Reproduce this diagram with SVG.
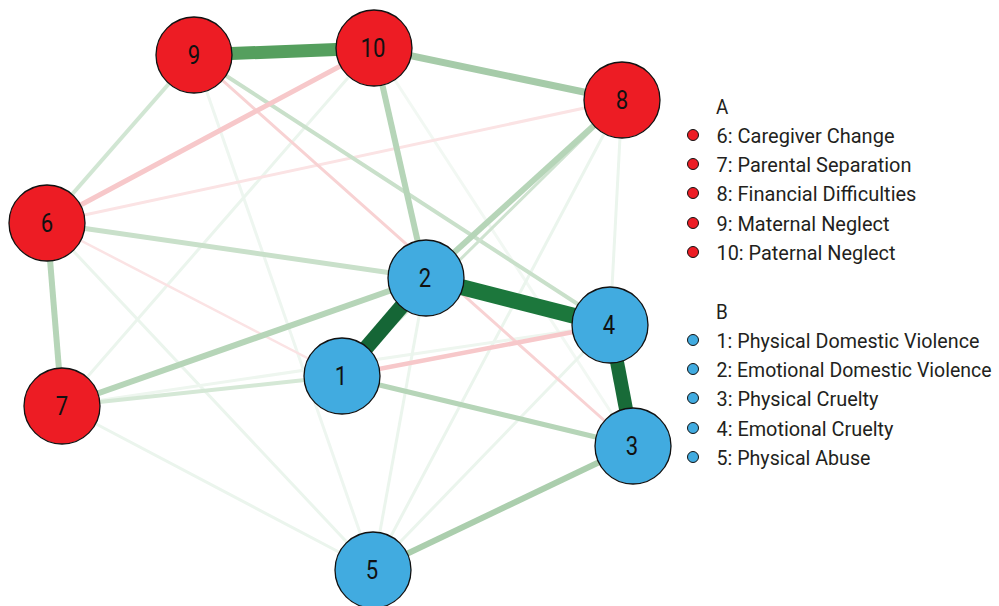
<svg xmlns="http://www.w3.org/2000/svg" width="999" height="606" viewBox="0 0 999 606">
<style>
.e{fill:none;stroke-linecap:butt}
.g0{stroke:#ebf5ed;stroke-width:3}
.g1{stroke:#c9e0ca;stroke-width:4}
.g2{stroke:#b6d5b8;stroke-width:6}
.g3{stroke:#a6cba9;stroke-width:7}
.p0{stroke:#fbe3e4;stroke-width:3}
.p1{stroke:#f8d2d3;stroke-width:3}
.p2{stroke:#f7c8ca;stroke-width:5}
.nr{fill:#ed1c24;stroke:#111;stroke-width:1.3}
.nb{fill:#41abe0;stroke:#111;stroke-width:1.3}
.nl{font-family:Roboto,"Liberation Sans",sans-serif;font-size:26px;fill:#111;text-anchor:middle}
.lg{font-family:Roboto,"Liberation Sans",sans-serif;font-size:21px;fill:#231f20}
.dr{fill:#ed1c24;stroke:#111;stroke-width:1}
.db{fill:#41abe0;stroke:#111;stroke-width:1}
</style>
<rect width="999" height="606" fill="#fff"/>
<g id="edges">
<line class="e g0" x1="194" y1="55" x2="373" y2="570" style="stroke:#eef6f0"/>
<line class="e g0" x1="374" y1="48" x2="62" y2="406"/>
<line class="e g0" x1="374" y1="48" x2="633" y2="446" style="stroke:#f2f8f3"/>
<line class="e g0" x1="622" y1="100" x2="373" y2="570"/>
<line class="e g0" x1="622" y1="100" x2="610" y2="325"/>
<line class="e g0" x1="47" y1="223" x2="373" y2="570"/>
<line class="e g0" x1="62" y1="406" x2="610" y2="325" style="stroke:#eef6ef"/>
<line class="e g0" x1="62" y1="406" x2="373" y2="570"/>
<line class="e g0" x1="426" y1="278" x2="373" y2="570"/>
<line class="e g0" x1="610" y1="325" x2="373" y2="570"/>
<line class="e p0" x1="47" y1="223" x2="622" y2="100"/>
<line class="e p0" x1="47" y1="223" x2="342" y2="376" style="stroke-width:2.5"/>
<line class="e p1" x1="194" y1="55" x2="633" y2="446"/>
<line class="e g1" x1="194" y1="55" x2="47" y2="223" style="stroke:#d1e6d3"/>
<line class="e g1" x1="194" y1="55" x2="610" y2="325"/>
<line class="e g1" x1="62" y1="406" x2="342" y2="376" style="stroke:#d5e8d6"/>
<line class="e g1" x1="622" y1="100" x2="342" y2="376" style="stroke:#cfe3d0;stroke-width:3"/>
<line class="e g1" x1="47" y1="223" x2="426" y2="278" style="stroke-width:5"/>
<line class="e g2" x1="342" y1="376" x2="633" y2="446" style="stroke-width:5"/>
<line class="e g2" x1="47" y1="223" x2="62" y2="406"/>
<line class="e g2" x1="62" y1="406" x2="426" y2="278"/>
<line class="e g2" x1="374" y1="48" x2="426" y2="278"/>
<line class="e g2" x1="622" y1="100" x2="426" y2="278"/>
<line class="e g2" x1="633" y1="446" x2="373" y2="570" style="stroke:#abcead"/>
<line class="e g3" x1="374" y1="48" x2="622" y2="100"/>
<line class="e p2" x1="374" y1="48" x2="47" y2="223"/>
<line class="e p2" x1="342" y1="376" x2="610" y2="325" style="stroke-width:4.5"/>
<line class="e" x1="194" y1="55" x2="374" y2="48" stroke="#559f5e" stroke-width="13"/>
<line class="e" x1="426" y1="278" x2="610" y2="325" stroke="#1c773c" stroke-width="16"/>
<line class="e" x1="342" y1="376" x2="426" y2="278" stroke="#156636" stroke-width="15"/>
<line class="e" x1="610" y1="325" x2="633" y2="446" stroke="#186b38" stroke-width="14"/>
</g>
<g id="node9"><circle class="nr" cx="194" cy="55" r="38"/><text class="nl" transform="translate(194,64) scale(0.85,1)">9</text></g>
<g id="node10"><circle class="nr" cx="374" cy="48" r="38"/><text class="nl" transform="translate(373,57) scale(0.85,1)">10</text></g>
<g id="node8"><circle class="nr" cx="622" cy="100" r="38"/><text class="nl" transform="translate(622,109) scale(0.85,1)">8</text></g>
<g id="node6"><circle class="nr" cx="47" cy="223" r="38"/><text class="nl" transform="translate(47,232) scale(0.85,1)">6</text></g>
<g id="node7"><circle class="nr" cx="62" cy="406" r="38"/><text class="nl" transform="translate(62,415) scale(0.85,1)">7</text></g>
<g id="node2"><circle class="nb" cx="426" cy="278" r="38"/><text class="nl" transform="translate(425,287) scale(0.85,1)">2</text></g>
<g id="node1"><circle class="nb" cx="342" cy="376" r="38"/><text class="nl" transform="translate(341,385) scale(0.85,1)">1</text></g>
<g id="node4"><circle class="nb" cx="610" cy="325" r="38"/><text class="nl" transform="translate(609,334) scale(0.85,1)">4</text></g>
<g id="node3"><circle class="nb" cx="633" cy="446" r="38"/><text class="nl" transform="translate(632,455) scale(0.85,1)">3</text></g>
<g id="node5"><circle class="nb" cx="373" cy="570" r="38"/><text class="nl" transform="translate(372,579) scale(0.85,1)">5</text></g>
<g id="legend">
<circle class="dr" cx="693" cy="135" r="5.5"/>
<circle class="dr" cx="693" cy="164" r="5.5"/>
<circle class="dr" cx="693" cy="193" r="5.5"/>
<circle class="dr" cx="693" cy="223" r="5.5"/>
<circle class="dr" cx="693" cy="252" r="5.5"/>
<circle class="db" cx="693" cy="340" r="5.5"/>
<circle class="db" cx="693" cy="369" r="5.5"/>
<circle class="db" cx="693" cy="398" r="5.5"/>
<circle class="db" cx="693" cy="428" r="5.5"/>
<circle class="db" cx="693" cy="457" r="5.5"/>
<g transform="scale(0.9,1)">
<text class="lg" x="795.6" y="114">A</text>
<text class="lg" x="796.1" y="143" textLength="197.8" lengthAdjust="spacingAndGlyphs">6: Caregiver Change</text>
<text class="lg" x="796.1" y="172" textLength="216.7" lengthAdjust="spacingAndGlyphs">7: Parental Separation</text>
<text class="lg" x="796.1" y="201" textLength="222.2" lengthAdjust="spacingAndGlyphs">8: Financial Difficulties</text>
<text class="lg" x="796.1" y="231" textLength="192.2" lengthAdjust="spacingAndGlyphs">9: Maternal Neglect</text>
<text class="lg" x="796.1" y="260" textLength="198.9" lengthAdjust="spacingAndGlyphs">10: Paternal Neglect</text>
<text class="lg" x="795.6" y="319">B</text>
<text class="lg" x="796.1" y="348" textLength="292.2" lengthAdjust="spacingAndGlyphs">1: Physical Domestic Violence</text>
<text class="lg" x="796.1" y="377" textLength="305.6" lengthAdjust="spacingAndGlyphs">2: Emotional Domestic Violence</text>
<text class="lg" x="796.1" y="406" textLength="180" lengthAdjust="spacingAndGlyphs">3: Physical Cruelty</text>
<text class="lg" x="796.1" y="436" textLength="196.7" lengthAdjust="spacingAndGlyphs">4: Emotional Cruelty</text>
<text class="lg" x="796.1" y="465" textLength="171.1" lengthAdjust="spacingAndGlyphs">5: Physical Abuse</text>
</g>
</g>
</svg>
